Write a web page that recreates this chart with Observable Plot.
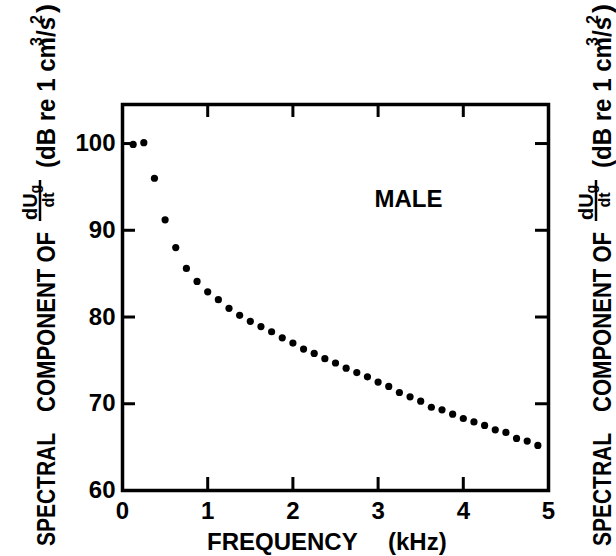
<!DOCTYPE html>
<html>
<head>
<meta charset="utf-8">
<script src="https://cdn.jsdelivr.net/npm/d3@7"></script>
<script src="https://cdn.jsdelivr.net/npm/@observablehq/plot@0.6"></script>
<style>
  body { margin: 0; background: #fff; }
  #chart svg { display: block; }
</style>
</head>
<body>
<div id="chart"></div>
<script>
// Harmonic frequencies (kHz)
const frequency = [0.125, 0.25, 0.375, 0.5, 0.625, 0.75, 0.875, 1.0, 1.125, 1.25,
  1.375, 1.5, 1.625, 1.75, 1.875, 2.0, 2.125, 2.25, 2.375, 2.5,
  2.625, 2.75, 2.875, 3.0, 3.125, 3.25, 3.375, 3.5, 3.625, 3.75,
  3.875, 4.0, 4.125, 4.25, 4.375, 4.5, 4.625, 4.75, 4.875];
// Spectral level (dB re 1 cm^3/s^2)
const level = [99.9, 100.1, 96.0, 91.2, 88.0, 85.6, 84.1, 82.9, 82.0, 81.0,
  80.2, 79.5, 78.9, 78.3, 77.6, 77.0, 76.3, 75.8, 75.2, 74.7,
  74.1, 73.6, 73.1, 72.5, 72.0, 71.3, 70.8, 70.3, 69.6, 69.3,
  68.8, 68.3, 67.9, 67.5, 67.0, 66.7, 66.0, 65.7, 65.2];

const xTicks = [0, 1, 2, 3, 4, 5];
const yTicks = [60, 70, 80, 90, 100];
const xInnerTicks = [1, 2, 3, 4];
const yInnerTicks = [70, 80, 90, 100];
const xDomain = [0, 5];
const yDomain = [60, 104.5];
const panelLabel = ["MALE"];
const xLabelParts = ["FREQUENCY", "(kHz)"];
const yLabelMain = ["SPECTRAL", "COMPONENT OF"];
const yLabelUnit = ["(dB re 1 cm", "3", "/s", "2", ")"];
const yLabelFraction = ["dU", "g", "dt"];

const data = frequency.map((f, i) => ({f, v: level[i]}));

const W = 616, H = 556;
const mL = 122, mR = 68, mT = 104, mB = 66;
const fw = W - mL - mR, fh = H - mT - mB;
const FONT = "'Liberation Sans', Arial, Helvetica, sans-serif";

const plot = Plot.plot({
  width: W, height: H,
  marginLeft: mL, marginRight: mR, marginTop: mT, marginBottom: mB,
  style: {fontFamily: FONT, fontSize: "24px", fontWeight: "bold", background: "#fff", color: "#000"},
  x: {domain: xDomain},
  y: {domain: yDomain},
  marks: [
    Plot.frame({stroke: "#000", strokeWidth: 3.5}),
    Plot.tickX(xInnerTicks, {x: d => d, insetTop: fh - 13, stroke: "#000", strokeWidth: 3}),
    Plot.tickX(xInnerTicks, {x: d => d, insetBottom: fh - 13, stroke: "#000", strokeWidth: 3}),
    Plot.tickY(yInnerTicks, {y: d => d, insetRight: fw - 13, stroke: "#000", strokeWidth: 3}),
    Plot.tickY(yInnerTicks, {y: d => d, insetLeft: fw - 13, stroke: "#000", strokeWidth: 3}),
    Plot.axisX({ticks: xTicks, tickSize: 0, tickPadding: 11, label: null, tickFormat: d => String(d), fontSize: 24, fontWeight: "bold"}),
    Plot.axisY({ticks: yTicks, tickSize: 0, tickPadding: 7, label: null, tickFormat: d => String(d), fontSize: 24, fontWeight: "bold"}),
    Plot.dot(data, {x: "f", y: "v", r: 3.6, fill: "#000", stroke: null}),
    Plot.text(panelLabel, {text: d => d, frameAnchor: "top", dx: 73, dy: 85, fontSize: 24, fontWeight: "bold", fill: "#000"})
  ]
});

document.getElementById("chart").appendChild(plot);

const svg = d3.select(plot);

// x axis title
const xt = svg.append("text")
  .attr("y", 550).attr("text-anchor", "start")
  .attr("font-family", FONT).attr("font-size", 24).attr("font-weight", "bold").attr("fill", "#000");
xt.append("tspan").attr("x", 207).text(xLabelParts[0]);
xt.append("tspan").attr("x", 388).text(xLabelParts[1]);

function yLabel(bx) {
  const g = svg.append("g")
    .attr("transform", `translate(${bx},0) rotate(-90)`)
    .attr("text-anchor", "start")
    .attr("font-family", FONT).attr("font-weight", "bold").attr("fill", "#000");
  const seg = (txt, x, y, size, len) => {
    const t = g.append("text").attr("x", x).attr("y", y).attr("font-size", size).text(txt);
    if (len) t.attr("textLength", len).attr("lengthAdjust", "spacingAndGlyphs");
    return t;
  };
  seg(yLabelMain[0], -546, 0, 26, 113);
  seg(yLabelMain[1], -412, 0, 26, 180);
  // fraction dU_g / dt
  const num = g.append("text").attr("x", -220).attr("y", -18).attr("font-size", 20);
  num.append("tspan").text(yLabelFraction[0]);
  num.append("tspan").attr("dy", 3).attr("font-size", 14).text(yLabelFraction[1]);
  g.append("line").attr("x1", -221).attr("x2", -180).attr("y1", -15).attr("y2", -15)
    .attr("stroke", "#000").attr("stroke-width", 2.5);
  g.append("text").attr("x", -200).attr("y", -1).attr("font-size", 16)
    .attr("text-anchor", "middle").text(yLabelFraction[2]);
  seg(yLabelUnit[0], -168, 0, 26, 131);
  seg(yLabelUnit[1], -46, -13, 16);
  seg(yLabelUnit[2], -37, 0, 26, 20);
  seg(yLabelUnit[3], -24, -13, 16);
  seg(yLabelUnit[4], -13, 0, 26, 9);
}
yLabel(55);
yLabel(611);
</script>
</body>
</html>
